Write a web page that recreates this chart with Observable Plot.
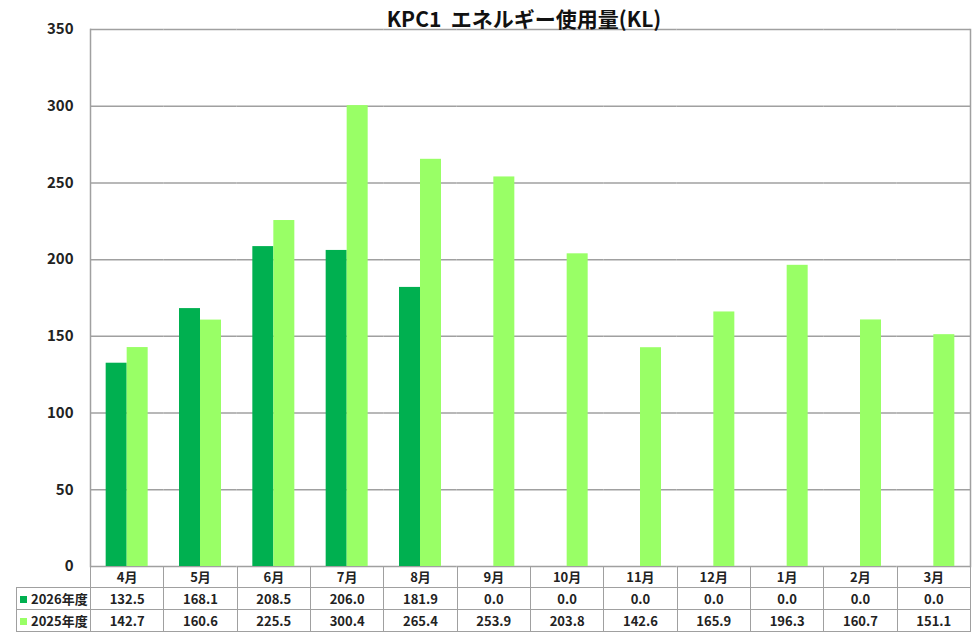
<!DOCTYPE html>
<html>
<head>
<meta charset="utf-8">
<script src="https://cdn.jsdelivr.net/npm/d3@7"></script>
<script src="https://cdn.jsdelivr.net/npm/@observablehq/plot@0.6"></script>
<style>
  body { margin: 0; background: white; font-family: "Noto Sans CJK JP", "Noto Sans", sans-serif; }
  #wrap { position: relative; width: 976px; height: 638px; overflow: hidden; }
  #title { position: absolute; top: 5px; left: 84px; width: 880px; text-align: center;
           font-size: 21px; font-weight: bold; line-height: 26px; color: #111; white-space: pre; }
  #tbl { position: absolute; top: 566px; left: 16px; border-collapse: collapse; table-layout: fixed;
         width: 954px; font-size: 13px; font-weight: bold; color: #222; }
  #tbl td { border: 1.5px solid #a0a0a0; text-align: center; padding: 0; line-height: 18px; }
  #tbl tr.h td { height: 21px; border-top: none; }
  #tbl tr.r td { height: 21px; }
  #tbl td.empty { border-left: none; border-top: none; }
  #tbl td.lab { text-align: left; padding-left: 3px; white-space: nowrap; }
  .sw { display: inline-block; width: 7px; height: 7px; margin-right: 4px; vertical-align: 1px; }
</style>
</head>
<body>
<div id="wrap">
  <div id="chart"></div>
  <div id="title"></div>
  <table id="tbl"></table>
</div>
<script>
const titleText = "KPC1  エネルギー使用量(KL)";
const months = ["4月","5月","6月","7月","8月","9月","10月","11月","12月","1月","2月","3月"];
const seriesNames = ["2026年度","2025年度"];
const fy2026 = [132.5,168.1,208.5,206.0,181.9,0.0,0.0,0.0,0.0,0.0,0.0,0.0];
const fy2025 = [142.7,160.6,225.5,300.4,265.4,253.9,203.8,142.6,165.9,196.3,160.7,151.1];
const yTicks = [0,50,100,150,200,250,300,350];
const colors = ["#00b050","#99ff66"];

const seriesValues = [fy2026, fy2025];
const data = months.flatMap((m, i) => seriesNames.map((s, k) => ({month: m, series: s, value: seriesValues[k][i]})));

const lineStyle = {stroke: "#a0a0a0", strokeWidth: 1.5};

const chart = Plot.plot({
  width: 976,
  height: 580,
  marginTop: 29,
  marginBottom: 14,
  marginLeft: 90,
  marginRight: 6,
  style: {fontFamily: "'Noto Sans CJK JP', 'Noto Sans', sans-serif", fontSize: "15px", fontWeight: "bold", color: "#222", background: "white"},
  fx: {domain: months, padding: 0, round: false, axis: null, label: null},
  x: {domain: seriesNames, paddingInner: 0, paddingOuter: 0.746, round: false, axis: null},
  y: {domain: [0, 350], label: null},
  color: {domain: seriesNames, range: colors},
  marks: [
    Plot.gridY(yTicks, {...lineStyle, strokeOpacity: 1}),
    Plot.barY(data, {fx: "month", x: "series", y: "value", fill: "series"}),
    Plot.frame({anchor: "left", facetAnchor: "left", ...lineStyle}),
    Plot.frame({anchor: "right", facetAnchor: "right", ...lineStyle}),
    Plot.axisY(yTicks, {tickSize: 0, tickPadding: 17, label: null, fontSize: 15, fontWeight: "bold", fill: "#222"})
  ]
});
document.getElementById("chart").appendChild(chart);
document.getElementById("title").textContent = titleText;

// data table
const tbl = document.getElementById("tbl");
let html = "<colgroup><col style='width:74px'>" + months.map(() => "<col style='width:" + (880 / months.length) + "px'>").join("") + "</colgroup>";
html += "<tr class='h'><td class='empty'></td>" + months.map(m => "<td>" + m + "</td>").join("") + "</tr>";
seriesNames.forEach((s, k) => {
  html += "<tr class='r'><td class='lab'><span class='sw' style='background:" + colors[k] + "'></span>" + s + "</td>" +
    seriesValues[k].map(v => "<td>" + v.toFixed(1) + "</td>").join("") + "</tr>";
});
tbl.innerHTML = html;
</script>
</body>
</html>
